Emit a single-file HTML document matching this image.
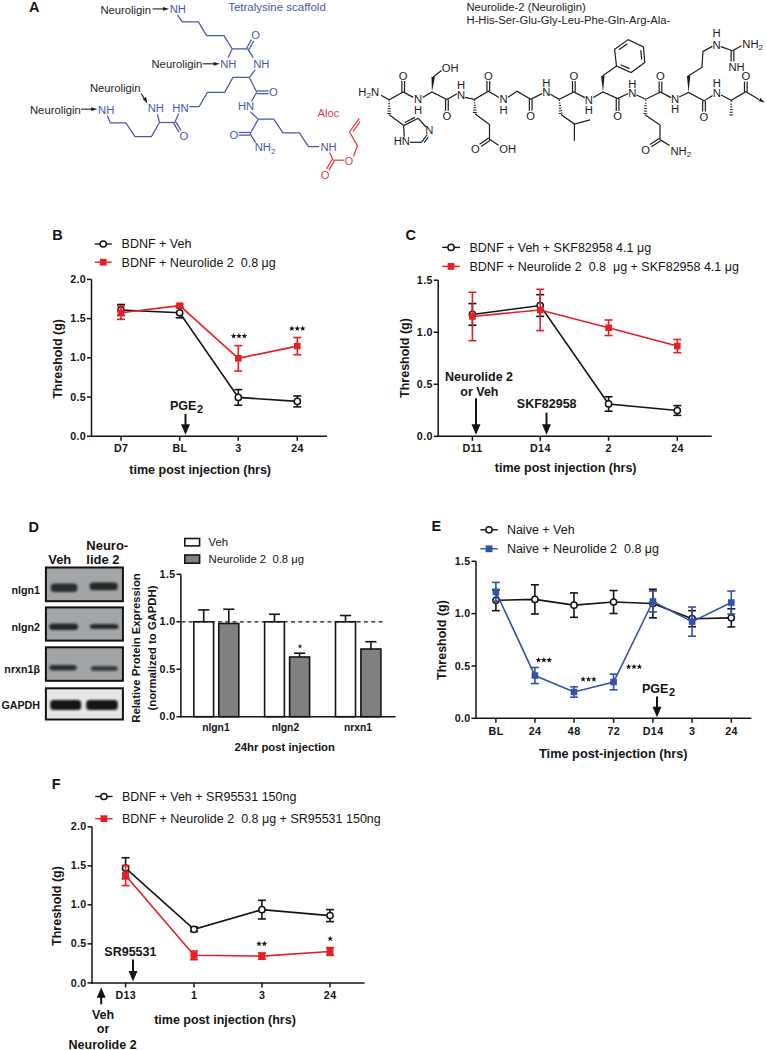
<!DOCTYPE html>
<html><head><meta charset="utf-8"><style>
html,body{margin:0;padding:0;background:#fff;}
svg{display:block;font-family:"Liberation Sans", sans-serif;}
svg text{white-space:pre;}
</style></head><body>
<svg width="767" height="1050" viewBox="0 0 767 1050">
<rect width="767" height="1050" fill="#fff"/>
<text x="29.1" y="11.6" font-size="14.5" font-weight="bold" text-anchor="start" fill="#1c1c1c">A</text>
<text x="228.2" y="11" font-size="11.5" text-anchor="start" fill="#4a58a8">Tetralysine scaffold</text>
<text x="100.4" y="13.5" font-size="11.25" text-anchor="start" fill="#1c1c1c">Neuroligin</text>
<line x1="152.5" y1="8.9" x2="164" y2="8.9" stroke="#1c1c1c" stroke-width="1.1"/>
<polygon points="169.2,8.9 163,10.8 163,7" fill="#1c1c1c"/>
<text x="169.7" y="13.3" font-size="11.25" text-anchor="start" fill="#4a58a8">NH</text>
<polyline points="177.4,14.8 182.3,21.9 198.4,21.9 206.6,35.6 224,35.6 232.2,48.9 247.7,48.9" stroke="#4a58a8" stroke-width="1.25" fill="none" stroke-linejoin="miter"/>
<line x1="248.87" y1="49.57" x2="253.77" y2="40.97" stroke="#4a58a8" stroke-width="1.25"/>
<line x1="246.53" y1="48.23" x2="251.43" y2="39.63" stroke="#4a58a8" stroke-width="1.25"/>
<text x="255.6" y="39.2" font-size="11.25" text-anchor="middle" fill="#4a58a8">O</text>
<line x1="247.7" y1="48.9" x2="253.2" y2="57.6" stroke="#4a58a8" stroke-width="1.25"/>
<line x1="232.2" y1="48.9" x2="228" y2="57.8" stroke="#4a58a8" stroke-width="1.25"/>
<text x="151.5" y="68.3" font-size="11.25" text-anchor="start" fill="#1c1c1c">Neuroligin</text>
<line x1="202.8" y1="63.8" x2="214.5" y2="63.8" stroke="#1c1c1c" stroke-width="1.1"/>
<polygon points="219.8,63.8 213.6,65.7 213.6,61.9" fill="#1c1c1c"/>
<text x="220.2" y="68.3" font-size="11.25" text-anchor="start" fill="#4a58a8">NH</text>
<text x="253.2" y="68.3" font-size="11.25" text-anchor="start" fill="#4a58a8">NH</text>
<line x1="255.2" y1="69.8" x2="249.4" y2="77.4" stroke="#4a58a8" stroke-width="1.25"/>
<polyline points="249.4,77.4 232.9,77.4 224.7,92.3 207.4,92.3 199.2,106.6 189.4,106.6" stroke="#4a58a8" stroke-width="1.25" fill="none" stroke-linejoin="miter"/>
<line x1="249.4" y1="77.4" x2="256.7" y2="92.3" stroke="#4a58a8" stroke-width="1.25"/>
<line x1="256.7" y1="93.65" x2="268.6" y2="93.65" stroke="#4a58a8" stroke-width="1.25"/>
<line x1="256.7" y1="90.95" x2="268.6" y2="90.95" stroke="#4a58a8" stroke-width="1.25"/>
<text x="273.5" y="95.9" font-size="11.25" text-anchor="middle" fill="#4a58a8">O</text>
<line x1="256.7" y1="92.3" x2="251.5" y2="101.2" stroke="#4a58a8" stroke-width="1.25"/>
<text x="238" y="110.2" font-size="11.25" text-anchor="start" fill="#4a58a8">HN</text>
<text x="30" y="113.8" font-size="11.25" text-anchor="start" fill="#1c1c1c">Neuroligin</text>
<line x1="81.1" y1="109.2" x2="92" y2="109.2" stroke="#1c1c1c" stroke-width="1.1"/>
<polygon points="97.4,109.2 91.2,111.1 91.2,107.3" fill="#1c1c1c"/>
<text x="98.1" y="113.8" font-size="11.25" text-anchor="start" fill="#4a58a8">NH</text>
<text x="89.9" y="92.4" font-size="11.25" text-anchor="start" fill="#1c1c1c">Neuroligin</text>
<line x1="141.2" y1="93.5" x2="144.3" y2="98.6" stroke="#1c1c1c" stroke-width="1.1"/>
<polygon points="147.4,103.4 142.75,98.88 146.08,97.05" fill="#1c1c1c"/>
<text x="147.7" y="112.3" font-size="11.25" text-anchor="start" fill="#4a58a8">NH</text>
<text x="172.3" y="112.3" font-size="11.25" text-anchor="start" fill="#4a58a8">HN</text>
<polyline points="107.4,115.8 110.3,122.9 125.9,122.9 135,136.6 151.4,136.6 159.5,122.5" stroke="#4a58a8" stroke-width="1.25" fill="none" stroke-linejoin="miter"/>
<line x1="159.5" y1="122.5" x2="157.4" y2="114.2" stroke="#4a58a8" stroke-width="1.25"/>
<line x1="159.5" y1="122.5" x2="174.7" y2="122.5" stroke="#4a58a8" stroke-width="1.25"/>
<line x1="174.7" y1="122.5" x2="178.6" y2="113.8" stroke="#4a58a8" stroke-width="1.25"/>
<line x1="173.55" y1="123.2" x2="178.85" y2="131.9" stroke="#4a58a8" stroke-width="1.25"/>
<line x1="175.85" y1="121.8" x2="181.15" y2="130.5" stroke="#4a58a8" stroke-width="1.25"/>
<text x="183.8" y="139.6" font-size="11.25" text-anchor="middle" fill="#4a58a8">O</text>
<line x1="250.2" y1="111.6" x2="258.3" y2="119.2" stroke="#4a58a8" stroke-width="1.25"/>
<polyline points="258.3,119.2 273.8,119.2 283,132.9 299.4,132.9 308.5,146.5 319,146.5" stroke="#4a58a8" stroke-width="1.25" fill="none" stroke-linejoin="miter"/>
<text x="320.4" y="150.5" font-size="11.25" text-anchor="start" fill="#4a58a8">NH</text>
<line x1="258.3" y1="119.2" x2="250.1" y2="133.8" stroke="#4a58a8" stroke-width="1.25"/>
<line x1="250.1" y1="132.45" x2="238.6" y2="132.45" stroke="#4a58a8" stroke-width="1.25"/>
<line x1="250.1" y1="135.15" x2="238.6" y2="135.15" stroke="#4a58a8" stroke-width="1.25"/>
<text x="234" y="138.5" font-size="11.25" text-anchor="middle" fill="#4a58a8">O</text>
<line x1="250.1" y1="133.8" x2="255.6" y2="142.6" stroke="#4a58a8" stroke-width="1.25"/>
<text x="254.7" y="151.1" font-size="11.25" fill="#4a58a8">NH<tspan font-size="8" dy="2.5">2</tspan></text>
<text x="317.4" y="116.9" font-size="11.25" text-anchor="start" fill="#e23a46">Aloc</text>
<line x1="329.6" y1="152.6" x2="333.2" y2="160.2" stroke="#e23a46" stroke-width="1.25"/>
<line x1="333.2" y1="160.2" x2="344.2" y2="160.2" stroke="#e23a46" stroke-width="1.25"/>
<text x="349" y="164.6" font-size="11.25" text-anchor="middle" fill="#e23a46">O</text>
<polyline points="353.5,156.5 357.4,145.6 349.5,132" stroke="#e23a46" stroke-width="1.25" fill="none" stroke-linejoin="miter"/>
<line x1="349.5" y1="132" x2="359.3" y2="118.3" stroke="#e23a46" stroke-width="1.25"/>
<line x1="353.08" y1="131.46" x2="359.94" y2="121.87" stroke="#e23a46" stroke-width="1.25"/>
<line x1="332.03" y1="159.52" x2="326.63" y2="168.82" stroke="#e23a46" stroke-width="1.25"/>
<line x1="334.37" y1="160.88" x2="328.97" y2="170.18" stroke="#e23a46" stroke-width="1.25"/>
<text x="325.2" y="179.4" font-size="11.25" text-anchor="middle" fill="#e23a46">O</text>
<text x="466.4" y="10.9" font-size="11.25" text-anchor="start" fill="#1c1c1c">Neurolide-2 (Neuroligin)</text>
<text x="466.4" y="24.1" font-size="11.25" text-anchor="start" fill="#1c1c1c">H-His-Ser-Glu-Gly-Leu-Phe-Gln-Arg-Ala-</text>
<text x="358.3" y="95.5" font-size="11.25" fill="#1c1c1c">H<tspan font-size="8" dy="2.5">2</tspan><tspan dy="-2.5">N</tspan></text>
<polyline points="381.1,95.2 389.2,99.8 403.2,91.9 413.2,97.4" stroke="#1c1c1c" stroke-width="1.2" fill="none" stroke-linejoin="miter"/>
<line x1="404.55" y1="91.9" x2="404.55" y2="81" stroke="#1c1c1c" stroke-width="1.2"/>
<line x1="401.85" y1="91.9" x2="401.85" y2="81" stroke="#1c1c1c" stroke-width="1.2"/>
<text x="403.2" y="79.8" font-size="11.25" text-anchor="middle" fill="#1c1c1c">O</text>
<text x="418" y="103.3" font-size="11.25" text-anchor="middle" fill="#1c1c1c">N</text>
<text x="418" y="113.6" font-size="11.25" text-anchor="middle" fill="#1c1c1c">H</text>
<polyline points="422.6,97.4 431.9,91.9 446.9,99.6 457,93.8" stroke="#1c1c1c" stroke-width="1.2" fill="none" stroke-linejoin="miter"/>
<line x1="445.55" y1="99.6" x2="445.55" y2="110.8" stroke="#1c1c1c" stroke-width="1.2"/>
<line x1="448.25" y1="99.6" x2="448.25" y2="110.8" stroke="#1c1c1c" stroke-width="1.2"/>
<text x="446.9" y="120" font-size="11.25" text-anchor="middle" fill="#1c1c1c">O</text>
<text x="461" y="99.2" font-size="11.25" text-anchor="middle" fill="#1c1c1c">N</text>
<text x="461" y="89.2" font-size="11.25" text-anchor="middle" fill="#1c1c1c">H</text>
<polyline points="465,97.4 474.6,99.3 488.3,91.3 499,97.6" stroke="#1c1c1c" stroke-width="1.2" fill="none" stroke-linejoin="miter"/>
<line x1="489.65" y1="91.3" x2="489.65" y2="81" stroke="#1c1c1c" stroke-width="1.2"/>
<line x1="486.95" y1="91.3" x2="486.95" y2="81" stroke="#1c1c1c" stroke-width="1.2"/>
<text x="488.3" y="79.8" font-size="11.25" text-anchor="middle" fill="#1c1c1c">O</text>
<text x="503.5" y="103.3" font-size="11.25" text-anchor="middle" fill="#1c1c1c">N</text>
<text x="503.5" y="113.6" font-size="11.25" text-anchor="middle" fill="#1c1c1c">H</text>
<polyline points="508,97.3 517,91.3 530.7,99.3 542,93.6" stroke="#1c1c1c" stroke-width="1.2" fill="none" stroke-linejoin="miter"/>
<line x1="529.35" y1="99.3" x2="529.35" y2="110.8" stroke="#1c1c1c" stroke-width="1.2"/>
<line x1="532.05" y1="99.3" x2="532.05" y2="110.8" stroke="#1c1c1c" stroke-width="1.2"/>
<text x="530.7" y="120" font-size="11.25" text-anchor="middle" fill="#1c1c1c">O</text>
<text x="546.2" y="96" font-size="11.25" text-anchor="middle" fill="#1c1c1c">N</text>
<text x="546.2" y="87.1" font-size="11.25" text-anchor="middle" fill="#1c1c1c">H</text>
<polyline points="550.3,94.2 559.2,99.2 573.8,91.9 584.8,97.6" stroke="#1c1c1c" stroke-width="1.2" fill="none" stroke-linejoin="miter"/>
<line x1="575.15" y1="91.9" x2="575.15" y2="81" stroke="#1c1c1c" stroke-width="1.2"/>
<line x1="572.45" y1="91.9" x2="572.45" y2="81" stroke="#1c1c1c" stroke-width="1.2"/>
<text x="573.8" y="79.8" font-size="11.25" text-anchor="middle" fill="#1c1c1c">O</text>
<text x="588.9" y="103.7" font-size="11.25" text-anchor="middle" fill="#1c1c1c">N</text>
<text x="588.9" y="113.6" font-size="11.25" text-anchor="middle" fill="#1c1c1c">H</text>
<polyline points="593.2,97.4 603,91.9 617.6,98.6 628.2,93.5" stroke="#1c1c1c" stroke-width="1.2" fill="none" stroke-linejoin="miter"/>
<line x1="616.25" y1="98.6" x2="616.25" y2="111" stroke="#1c1c1c" stroke-width="1.2"/>
<line x1="618.95" y1="98.6" x2="618.95" y2="111" stroke="#1c1c1c" stroke-width="1.2"/>
<text x="617.6" y="120.2" font-size="11.25" text-anchor="middle" fill="#1c1c1c">O</text>
<text x="632.2" y="96.8" font-size="11.25" text-anchor="middle" fill="#1c1c1c">N</text>
<text x="632.2" y="87.7" font-size="11.25" text-anchor="middle" fill="#1c1c1c">H</text>
<polyline points="636.4,95 645.9,99.2 660.5,91.9 671,97.6" stroke="#1c1c1c" stroke-width="1.2" fill="none" stroke-linejoin="miter"/>
<line x1="661.85" y1="91.9" x2="661.85" y2="81.5" stroke="#1c1c1c" stroke-width="1.2"/>
<line x1="659.15" y1="91.9" x2="659.15" y2="81.5" stroke="#1c1c1c" stroke-width="1.2"/>
<text x="660.5" y="80.2" font-size="11.25" text-anchor="middle" fill="#1c1c1c">O</text>
<text x="675" y="103.1" font-size="11.25" text-anchor="middle" fill="#1c1c1c">N</text>
<text x="675" y="113.3" font-size="11.25" text-anchor="middle" fill="#1c1c1c">H</text>
<polyline points="679.2,97 688.6,92.5 704,100.9 712.6,95.6" stroke="#1c1c1c" stroke-width="1.2" fill="none" stroke-linejoin="miter"/>
<line x1="702.65" y1="100.9" x2="702.65" y2="111.5" stroke="#1c1c1c" stroke-width="1.2"/>
<line x1="705.35" y1="100.9" x2="705.35" y2="111.5" stroke="#1c1c1c" stroke-width="1.2"/>
<text x="704" y="120.6" font-size="11.25" text-anchor="middle" fill="#1c1c1c">O</text>
<text x="716.8" y="96.5" font-size="11.25" text-anchor="middle" fill="#1c1c1c">N</text>
<text x="716.8" y="86.8" font-size="11.25" text-anchor="middle" fill="#1c1c1c">H</text>
<polyline points="721,95 731.2,100.2 745.8,91.8 759,99.4" stroke="#1c1c1c" stroke-width="1.2" fill="none" stroke-linejoin="miter"/>
<polygon points="764.8,102.6 758.76,101.06 760.46,98.12" fill="#1c1c1c"/>
<line x1="747.15" y1="91.8" x2="747.15" y2="81.5" stroke="#1c1c1c" stroke-width="1.2"/>
<line x1="744.45" y1="91.8" x2="744.45" y2="81.5" stroke="#1c1c1c" stroke-width="1.2"/>
<text x="745.8" y="80.2" font-size="11.25" text-anchor="middle" fill="#1c1c1c">O</text>
<line x1="389.74" y1="101.05" x2="388.66" y2="101.05" stroke="#1c1c1c" stroke-width="1.0"/>
<line x1="390.02" y1="103.55" x2="388.38" y2="103.55" stroke="#1c1c1c" stroke-width="1.0"/>
<line x1="390.31" y1="106.05" x2="388.09" y2="106.05" stroke="#1c1c1c" stroke-width="1.0"/>
<line x1="390.59" y1="108.55" x2="387.81" y2="108.55" stroke="#1c1c1c" stroke-width="1.0"/>
<line x1="390.88" y1="111.05" x2="387.52" y2="111.05" stroke="#1c1c1c" stroke-width="1.0"/>
<line x1="391.16" y1="113.55" x2="387.24" y2="113.55" stroke="#1c1c1c" stroke-width="1.0"/>
<line x1="389.2" y1="114.8" x2="403.7" y2="125.6" stroke="#1c1c1c" stroke-width="1.2"/>
<line x1="403.7" y1="125.6" x2="418.3" y2="118.3" stroke="#1c1c1c" stroke-width="1.2"/>
<line x1="404.86" y1="122.45" x2="415.08" y2="117.34" stroke="#1c1c1c" stroke-width="1.2"/>
<line x1="418.3" y1="118.3" x2="426" y2="127" stroke="#1c1c1c" stroke-width="1.2"/>
<text x="429.3" y="134.3" font-size="11.25" text-anchor="middle" fill="#1c1c1c">N</text>
<line x1="427.2" y1="134.5" x2="421.5" y2="142.3" stroke="#1c1c1c" stroke-width="1.2"/>
<line x1="428.2" y1="137.03" x2="424.21" y2="142.49" stroke="#1c1c1c" stroke-width="1.2"/>
<line x1="421.5" y1="142.3" x2="410" y2="142.3" stroke="#1c1c1c" stroke-width="1.2"/>
<text x="393.7" y="145.3" font-size="11.25" text-anchor="start" fill="#1c1c1c">HN</text>
<line x1="403.7" y1="125.6" x2="404.2" y2="136.8" stroke="#1c1c1c" stroke-width="1.2"/>
<polygon points="431.9,91.9 434.89,77.15 431.51,76.85" fill="#1c1c1c"/>
<line x1="433.2" y1="77" x2="441.5" y2="70.6" stroke="#1c1c1c" stroke-width="1.2"/>
<text x="441.7" y="71.9" font-size="11.25" text-anchor="start" fill="#1c1c1c">OH</text>
<line x1="475.17" y1="100.49" x2="474.08" y2="100.51" stroke="#1c1c1c" stroke-width="1.0"/>
<line x1="475.5" y1="102.88" x2="473.85" y2="102.92" stroke="#1c1c1c" stroke-width="1.0"/>
<line x1="475.83" y1="105.28" x2="473.62" y2="105.32" stroke="#1c1c1c" stroke-width="1.0"/>
<line x1="476.17" y1="107.67" x2="473.38" y2="107.73" stroke="#1c1c1c" stroke-width="1.0"/>
<line x1="476.5" y1="110.07" x2="473.15" y2="110.13" stroke="#1c1c1c" stroke-width="1.0"/>
<line x1="476.83" y1="112.46" x2="472.92" y2="112.54" stroke="#1c1c1c" stroke-width="1.0"/>
<polyline points="474.9,113.7 489.5,124.6 489.5,139.2 498.5,145.2" stroke="#1c1c1c" stroke-width="1.2" fill="none" stroke-linejoin="miter"/>
<line x1="488.75" y1="138.07" x2="479.55" y2="144.17" stroke="#1c1c1c" stroke-width="1.2"/>
<line x1="490.25" y1="140.33" x2="481.05" y2="146.43" stroke="#1c1c1c" stroke-width="1.2"/>
<text x="475.4" y="153.2" font-size="11.25" text-anchor="middle" fill="#1c1c1c">O</text>
<text x="499.3" y="152.9" font-size="11.25" text-anchor="start" fill="#1c1c1c">OH</text>
<line x1="559.88" y1="100.42" x2="558.8" y2="100.54" stroke="#1c1c1c" stroke-width="1.0"/>
<line x1="560.45" y1="102.96" x2="558.8" y2="103.14" stroke="#1c1c1c" stroke-width="1.0"/>
<line x1="561.01" y1="105.5" x2="558.81" y2="105.74" stroke="#1c1c1c" stroke-width="1.0"/>
<line x1="561.57" y1="108.03" x2="558.81" y2="108.34" stroke="#1c1c1c" stroke-width="1.0"/>
<line x1="562.14" y1="110.57" x2="558.81" y2="110.93" stroke="#1c1c1c" stroke-width="1.0"/>
<line x1="562.7" y1="113.1" x2="558.81" y2="113.53" stroke="#1c1c1c" stroke-width="1.0"/>
<polyline points="560.9,114.6 574.4,124 590,119.8" stroke="#1c1c1c" stroke-width="1.2" fill="none" stroke-linejoin="miter"/>
<line x1="574.4" y1="124" x2="574.4" y2="140.7" stroke="#1c1c1c" stroke-width="1.2"/>
<polygon points="603,91.9 604.5,75.68 601.1,75.72" fill="#1c1c1c"/>
<line x1="602.8" y1="75.7" x2="616.5" y2="66.1" stroke="#1c1c1c" stroke-width="1.2"/>
<polygon points="616.5,66.1 614.6,49.2 628.3,39.6 643.4,46.9 644.8,62.4 631.1,72.5" stroke="#1c1c1c" stroke-width="1.2" fill="none" stroke-linejoin="miter"/>
<line x1="618.95" y1="49.66" x2="627.28" y2="43.82" stroke="#1c1c1c" stroke-width="1.2"/>
<line x1="640.81" y1="50.23" x2="641.66" y2="59.66" stroke="#1c1c1c" stroke-width="1.2"/>
<line x1="629.44" y1="68.61" x2="620.56" y2="64.72" stroke="#1c1c1c" stroke-width="1.2"/>
<line x1="646.39" y1="100.54" x2="645.31" y2="100.5" stroke="#1c1c1c" stroke-width="1.0"/>
<line x1="646.57" y1="103.18" x2="644.93" y2="103.12" stroke="#1c1c1c" stroke-width="1.0"/>
<line x1="646.76" y1="105.83" x2="644.54" y2="105.74" stroke="#1c1c1c" stroke-width="1.0"/>
<line x1="646.94" y1="108.47" x2="644.16" y2="108.36" stroke="#1c1c1c" stroke-width="1.0"/>
<line x1="647.12" y1="111.11" x2="643.78" y2="110.99" stroke="#1c1c1c" stroke-width="1.0"/>
<line x1="647.31" y1="113.76" x2="643.39" y2="113.61" stroke="#1c1c1c" stroke-width="1.0"/>
<polyline points="645.3,115 660,125 660,139.6 669.5,145.6" stroke="#1c1c1c" stroke-width="1.2" fill="none" stroke-linejoin="miter"/>
<line x1="659.27" y1="138.46" x2="649.87" y2="144.46" stroke="#1c1c1c" stroke-width="1.2"/>
<line x1="660.73" y1="140.74" x2="651.33" y2="146.74" stroke="#1c1c1c" stroke-width="1.2"/>
<text x="645.6" y="153.7" font-size="11.25" text-anchor="middle" fill="#1c1c1c">O</text>
<text x="670.4" y="154.6" font-size="11.25" fill="#1c1c1c">NH<tspan font-size="8" dy="2.5">2</tspan></text>
<polygon points="688.6,92.5 690.3,75.8 686.9,75.8" fill="#1c1c1c"/>
<polyline points="688.6,75.8 701.9,67.4 703,51.4 712.4,46.4" stroke="#1c1c1c" stroke-width="1.2" fill="none" stroke-linejoin="miter"/>
<text x="716.5" y="48.6" font-size="11.25" text-anchor="middle" fill="#1c1c1c">N</text>
<text x="716.5" y="37" font-size="11.25" text-anchor="middle" fill="#1c1c1c">H</text>
<line x1="720.8" y1="46.6" x2="732.5" y2="50.7" stroke="#1c1c1c" stroke-width="1.2"/>
<line x1="731.15" y1="50.7" x2="731.15" y2="61.6" stroke="#1c1c1c" stroke-width="1.2"/>
<line x1="733.85" y1="50.7" x2="733.85" y2="61.6" stroke="#1c1c1c" stroke-width="1.2"/>
<text x="728.4" y="70.9" font-size="11.25" text-anchor="start" fill="#1c1c1c">NH</text>
<line x1="732.5" y1="50.7" x2="741.5" y2="45.8" stroke="#1c1c1c" stroke-width="1.2"/>
<text x="742.3" y="47.5" font-size="11.25" fill="#1c1c1c">NH<tspan font-size="8" dy="2.5">2</tspan></text>
<line x1="731.74" y1="101.54" x2="730.66" y2="101.54" stroke="#1c1c1c" stroke-width="1.0"/>
<line x1="732.03" y1="104.22" x2="730.38" y2="104.22" stroke="#1c1c1c" stroke-width="1.0"/>
<line x1="732.31" y1="106.91" x2="730.09" y2="106.91" stroke="#1c1c1c" stroke-width="1.0"/>
<line x1="732.59" y1="109.59" x2="729.81" y2="109.59" stroke="#1c1c1c" stroke-width="1.0"/>
<line x1="732.88" y1="112.28" x2="729.53" y2="112.28" stroke="#1c1c1c" stroke-width="1.0"/>
<line x1="733.16" y1="114.96" x2="729.24" y2="114.96" stroke="#1c1c1c" stroke-width="1.0"/>
<text x="52.2" y="240" font-size="14.5" font-weight="bold" text-anchor="start" fill="#141414">B</text>
<line x1="94.8" y1="244" x2="111.7" y2="244" stroke="#141414" stroke-width="1.4"/>
<circle cx="103.25" cy="244" r="3.1" fill="#fff" stroke="#141414" stroke-width="1.5"/>
<text x="121.6" y="248.4" font-size="12.5" text-anchor="start" fill="#141414">BDNF + Veh</text>
<line x1="94.8" y1="262.2" x2="111.7" y2="262.2" stroke="#e41f26" stroke-width="1.4"/>
<rect x="99.85" y="258.8" width="6.8" height="6.8" fill="#e41f26"/>
<text x="121.6" y="266.8" font-size="12.5" text-anchor="start" fill="#141414">BDNF + Neurolide 2  0.8 μg</text>
<line x1="91.5" y1="437.05" x2="91.5" y2="279.4" stroke="#141414" stroke-width="1.5"/>
<line x1="87" y1="436.3" x2="91.5" y2="436.3" stroke="#141414" stroke-width="1.5"/>
<text x="86.2" y="439.9" font-size="10.7" font-weight="bold" text-anchor="end" fill="#141414" letter-spacing="0.4">0.0</text>
<line x1="87" y1="397.07" x2="91.5" y2="397.07" stroke="#141414" stroke-width="1.5"/>
<text x="86.2" y="400.68" font-size="10.7" font-weight="bold" text-anchor="end" fill="#141414" letter-spacing="0.4">0.5</text>
<line x1="87" y1="357.85" x2="91.5" y2="357.85" stroke="#141414" stroke-width="1.5"/>
<text x="86.2" y="361.45" font-size="10.7" font-weight="bold" text-anchor="end" fill="#141414" letter-spacing="0.4">1.0</text>
<line x1="87" y1="318.62" x2="91.5" y2="318.62" stroke="#141414" stroke-width="1.5"/>
<text x="86.2" y="322.23" font-size="10.7" font-weight="bold" text-anchor="end" fill="#141414" letter-spacing="0.4">1.5</text>
<line x1="87" y1="279.4" x2="91.5" y2="279.4" stroke="#141414" stroke-width="1.5"/>
<text x="86.2" y="283" font-size="10.7" font-weight="bold" text-anchor="end" fill="#141414" letter-spacing="0.4">2.0</text>
<line x1="90.75" y1="436.3" x2="327" y2="436.3" stroke="#141414" stroke-width="1.5"/>
<line x1="121" y1="436.3" x2="121" y2="440.8" stroke="#141414" stroke-width="1.5"/>
<text x="121.2" y="452.1" font-size="10.7" font-weight="bold" text-anchor="middle" fill="#141414" letter-spacing="0.4">D7</text>
<line x1="179.7" y1="436.3" x2="179.7" y2="440.8" stroke="#141414" stroke-width="1.5"/>
<text x="179.9" y="452.1" font-size="10.7" font-weight="bold" text-anchor="middle" fill="#141414" letter-spacing="0.4">BL</text>
<line x1="238.3" y1="436.3" x2="238.3" y2="440.8" stroke="#141414" stroke-width="1.5"/>
<text x="238.5" y="452.1" font-size="10.7" font-weight="bold" text-anchor="middle" fill="#141414" letter-spacing="0.4">3</text>
<line x1="297.3" y1="436.3" x2="297.3" y2="440.8" stroke="#141414" stroke-width="1.5"/>
<text x="297.5" y="452.1" font-size="10.7" font-weight="bold" text-anchor="middle" fill="#141414" letter-spacing="0.4">24</text>
<text x="62" y="358.9" font-size="12.5" font-weight="bold" text-anchor="middle" fill="#141414" transform="rotate(-90 62 358.9)">Threshold (g)</text>
<text x="200.2" y="474.4" font-size="12.5" font-weight="bold" text-anchor="middle" fill="#141414">time post injection (hrs)</text>
<polyline points="121,309.99 179.7,312.73 238.3,397.42 297.3,401.4" stroke="#141414" stroke-width="1.6" fill="none" stroke-linejoin="miter"/>
<line x1="121" y1="304.51" x2="121" y2="315.46" stroke="#141414" stroke-width="1.6"/>
<line x1="117" y1="304.51" x2="125" y2="304.51" stroke="#141414" stroke-width="1.6"/>
<line x1="117" y1="315.46" x2="125" y2="315.46" stroke="#141414" stroke-width="1.6"/>
<line x1="179.7" y1="307.64" x2="179.7" y2="317.81" stroke="#141414" stroke-width="1.6"/>
<line x1="175.7" y1="307.64" x2="183.7" y2="307.64" stroke="#141414" stroke-width="1.6"/>
<line x1="175.7" y1="317.81" x2="183.7" y2="317.81" stroke="#141414" stroke-width="1.6"/>
<line x1="238.3" y1="389.6" x2="238.3" y2="405.24" stroke="#141414" stroke-width="1.6"/>
<line x1="234.3" y1="389.6" x2="242.3" y2="389.6" stroke="#141414" stroke-width="1.6"/>
<line x1="234.3" y1="405.24" x2="242.3" y2="405.24" stroke="#141414" stroke-width="1.6"/>
<line x1="297.3" y1="395.93" x2="297.3" y2="406.88" stroke="#141414" stroke-width="1.6"/>
<line x1="293.3" y1="395.93" x2="301.3" y2="395.93" stroke="#141414" stroke-width="1.6"/>
<line x1="293.3" y1="406.88" x2="301.3" y2="406.88" stroke="#141414" stroke-width="1.6"/>
<circle cx="121" cy="309.99" r="3.1" fill="#fff" stroke="#141414" stroke-width="1.5"/>
<circle cx="179.7" cy="312.73" r="3.1" fill="#fff" stroke="#141414" stroke-width="1.5"/>
<circle cx="238.3" cy="397.42" r="3.1" fill="#fff" stroke="#141414" stroke-width="1.5"/>
<circle cx="297.3" cy="401.4" r="3.1" fill="#fff" stroke="#141414" stroke-width="1.5"/>
<polyline points="121,312.73 179.7,305.69 238.3,358.32 297.3,346.12" stroke="#e41f26" stroke-width="1.6" fill="none" stroke-linejoin="miter"/>
<line x1="121" y1="306.08" x2="121" y2="319.37" stroke="#e41f26" stroke-width="1.6"/>
<line x1="117" y1="306.08" x2="125" y2="306.08" stroke="#e41f26" stroke-width="1.6"/>
<line x1="117" y1="319.37" x2="125" y2="319.37" stroke="#e41f26" stroke-width="1.6"/>
<line x1="179.7" y1="304.12" x2="179.7" y2="307.25" stroke="#e41f26" stroke-width="1.6"/>
<line x1="175.7" y1="304.12" x2="183.7" y2="304.12" stroke="#e41f26" stroke-width="1.6"/>
<line x1="175.7" y1="307.25" x2="183.7" y2="307.25" stroke="#e41f26" stroke-width="1.6"/>
<line x1="238.3" y1="345.57" x2="238.3" y2="371.06" stroke="#e41f26" stroke-width="1.6"/>
<line x1="234.3" y1="345.57" x2="242.3" y2="345.57" stroke="#e41f26" stroke-width="1.6"/>
<line x1="234.3" y1="371.06" x2="242.3" y2="371.06" stroke="#e41f26" stroke-width="1.6"/>
<line x1="297.3" y1="337.52" x2="297.3" y2="354.72" stroke="#e41f26" stroke-width="1.6"/>
<line x1="293.3" y1="337.52" x2="301.3" y2="337.52" stroke="#e41f26" stroke-width="1.6"/>
<line x1="293.3" y1="354.72" x2="301.3" y2="354.72" stroke="#e41f26" stroke-width="1.6"/>
<rect x="117.7" y="309.43" width="6.6" height="6.6" fill="#e41f26"/>
<rect x="176.4" y="302.39" width="6.6" height="6.6" fill="#e41f26"/>
<rect x="235" y="355.02" width="6.6" height="6.6" fill="#e41f26"/>
<rect x="294" y="342.82" width="6.6" height="6.6" fill="#e41f26"/>
<polygon points="233.6,333.1 234.33,335.09 236.45,335.17 234.79,336.49 235.36,338.53 233.6,337.35 231.84,338.53 232.41,336.49 230.75,335.17 232.87,335.09" fill="#141414"/>
<polygon points="239,333.1 239.73,335.09 241.85,335.17 240.19,336.49 240.76,338.53 239,337.35 237.24,338.53 237.81,336.49 236.15,335.17 238.27,335.09" fill="#141414"/>
<polygon points="244.4,333.1 245.13,335.09 247.25,335.17 245.59,336.49 246.16,338.53 244.4,337.35 242.64,338.53 243.21,336.49 241.55,335.17 243.67,335.09" fill="#141414"/>
<polygon points="291.9,325.6 292.63,327.59 294.75,327.67 293.09,328.99 293.66,331.03 291.9,329.85 290.14,331.03 290.71,328.99 289.05,327.67 291.17,327.59" fill="#141414"/>
<polygon points="297.3,325.6 298.03,327.59 300.15,327.67 298.49,328.99 299.06,331.03 297.3,329.85 295.54,331.03 296.11,328.99 294.45,327.67 296.57,327.59" fill="#141414"/>
<polygon points="302.7,325.6 303.43,327.59 305.55,327.67 303.89,328.99 304.46,331.03 302.7,329.85 300.94,331.03 301.51,328.99 299.85,327.67 301.97,327.59" fill="#141414"/>
<text x="186.5" y="410" font-size="12.5" font-weight="bold" text-anchor="middle" fill="#141414">PGE<tspan font-size="11" dx="0.6" dy="3.2">2</tspan></text>
<line x1="185.5" y1="413.9" x2="185.5" y2="425.3" stroke="#141414" stroke-width="2.0"/>
<polygon points="185.5,434.7 181,424.3 190,424.3" fill="#141414"/>
<text x="405.6" y="240.2" font-size="14.5" font-weight="bold" text-anchor="start" fill="#141414">C</text>
<line x1="442.2" y1="247.4" x2="459.9" y2="247.4" stroke="#141414" stroke-width="1.4"/>
<circle cx="451.05" cy="247.4" r="3.1" fill="#fff" stroke="#141414" stroke-width="1.5"/>
<text x="469.5" y="252" font-size="12.5" text-anchor="start" fill="#141414">BDNF + Veh + SKF82958 4.1 μg</text>
<line x1="442.2" y1="266.4" x2="459.9" y2="266.4" stroke="#e41f26" stroke-width="1.4"/>
<rect x="447.65" y="263" width="6.8" height="6.8" fill="#e41f26"/>
<text x="469.5" y="271" font-size="12.5" text-anchor="start" fill="#141414">BDNF + Neurolide 2  0.8  μg + SKF82958 4.1 μg</text>
<line x1="438.2" y1="437.05" x2="438.2" y2="280.2" stroke="#141414" stroke-width="1.5"/>
<line x1="433.7" y1="436.3" x2="438.2" y2="436.3" stroke="#141414" stroke-width="1.5"/>
<text x="432.9" y="439.9" font-size="10.7" font-weight="bold" text-anchor="end" fill="#141414" letter-spacing="0.4">0.0</text>
<line x1="433.7" y1="384.26" x2="438.2" y2="384.26" stroke="#141414" stroke-width="1.5"/>
<text x="432.9" y="387.87" font-size="10.7" font-weight="bold" text-anchor="end" fill="#141414" letter-spacing="0.4">0.5</text>
<line x1="433.7" y1="332.23" x2="438.2" y2="332.23" stroke="#141414" stroke-width="1.5"/>
<text x="432.9" y="335.83" font-size="10.7" font-weight="bold" text-anchor="end" fill="#141414" letter-spacing="0.4">1.0</text>
<line x1="433.7" y1="280.2" x2="438.2" y2="280.2" stroke="#141414" stroke-width="1.5"/>
<text x="432.9" y="283.8" font-size="10.7" font-weight="bold" text-anchor="end" fill="#141414" letter-spacing="0.4">1.5</text>
<line x1="437.45" y1="436.3" x2="711.7" y2="436.3" stroke="#141414" stroke-width="1.5"/>
<line x1="472.4" y1="436.3" x2="472.4" y2="440.8" stroke="#141414" stroke-width="1.5"/>
<text x="472.6" y="452.1" font-size="10.7" font-weight="bold" text-anchor="middle" fill="#141414" letter-spacing="0.4">D11</text>
<line x1="540.2" y1="436.3" x2="540.2" y2="440.8" stroke="#141414" stroke-width="1.5"/>
<text x="540.4" y="452.1" font-size="10.7" font-weight="bold" text-anchor="middle" fill="#141414" letter-spacing="0.4">D14</text>
<line x1="608.6" y1="436.3" x2="608.6" y2="440.8" stroke="#141414" stroke-width="1.5"/>
<text x="608.8" y="452.1" font-size="10.7" font-weight="bold" text-anchor="middle" fill="#141414" letter-spacing="0.4">2</text>
<line x1="677.3" y1="436.3" x2="677.3" y2="440.8" stroke="#141414" stroke-width="1.5"/>
<text x="677.5" y="452.1" font-size="10.7" font-weight="bold" text-anchor="middle" fill="#141414" letter-spacing="0.4">24</text>
<text x="408.6" y="358" font-size="12.5" font-weight="bold" text-anchor="middle" fill="#141414" transform="rotate(-90 408.6 358)">Threshold (g)</text>
<text x="565.7" y="472.2" font-size="12.5" font-weight="bold" text-anchor="middle" fill="#141414">time post injection (hrs)</text>
<polyline points="472.4,314.42 540.2,305.53 608.6,403.96 677.3,410.48" stroke="#141414" stroke-width="1.6" fill="none" stroke-linejoin="miter"/>
<line x1="472.4" y1="303.56" x2="472.4" y2="325.28" stroke="#141414" stroke-width="1.6"/>
<line x1="468.4" y1="303.56" x2="476.4" y2="303.56" stroke="#141414" stroke-width="1.6"/>
<line x1="468.4" y1="325.28" x2="476.4" y2="325.28" stroke="#141414" stroke-width="1.6"/>
<line x1="540.2" y1="294.67" x2="540.2" y2="316.38" stroke="#141414" stroke-width="1.6"/>
<line x1="536.2" y1="294.67" x2="544.2" y2="294.67" stroke="#141414" stroke-width="1.6"/>
<line x1="536.2" y1="316.38" x2="544.2" y2="316.38" stroke="#141414" stroke-width="1.6"/>
<line x1="608.6" y1="396.73" x2="608.6" y2="411.2" stroke="#141414" stroke-width="1.6"/>
<line x1="604.6" y1="396.73" x2="612.6" y2="396.73" stroke="#141414" stroke-width="1.6"/>
<line x1="604.6" y1="411.2" x2="612.6" y2="411.2" stroke="#141414" stroke-width="1.6"/>
<line x1="677.3" y1="405.62" x2="677.3" y2="415.34" stroke="#141414" stroke-width="1.6"/>
<line x1="673.3" y1="405.62" x2="681.3" y2="405.62" stroke="#141414" stroke-width="1.6"/>
<line x1="673.3" y1="415.34" x2="681.3" y2="415.34" stroke="#141414" stroke-width="1.6"/>
<circle cx="472.4" cy="314.42" r="3.1" fill="#fff" stroke="#141414" stroke-width="1.5"/>
<circle cx="540.2" cy="305.53" r="3.1" fill="#fff" stroke="#141414" stroke-width="1.5"/>
<circle cx="608.6" cy="403.96" r="3.1" fill="#fff" stroke="#141414" stroke-width="1.5"/>
<circle cx="677.3" cy="410.48" r="3.1" fill="#fff" stroke="#141414" stroke-width="1.5"/>
<polyline points="472.4,316.49 540.2,309.97 608.6,327.76 677.3,346.06" stroke="#e41f26" stroke-width="1.6" fill="none" stroke-linejoin="miter"/>
<line x1="472.4" y1="292.29" x2="472.4" y2="340.68" stroke="#e41f26" stroke-width="1.6"/>
<line x1="468.4" y1="292.29" x2="476.4" y2="292.29" stroke="#e41f26" stroke-width="1.6"/>
<line x1="468.4" y1="340.68" x2="476.4" y2="340.68" stroke="#e41f26" stroke-width="1.6"/>
<line x1="540.2" y1="289.29" x2="540.2" y2="330.65" stroke="#e41f26" stroke-width="1.6"/>
<line x1="536.2" y1="289.29" x2="544.2" y2="289.29" stroke="#e41f26" stroke-width="1.6"/>
<line x1="536.2" y1="330.65" x2="544.2" y2="330.65" stroke="#e41f26" stroke-width="1.6"/>
<line x1="608.6" y1="320" x2="608.6" y2="335.51" stroke="#e41f26" stroke-width="1.6"/>
<line x1="604.6" y1="320" x2="612.6" y2="320" stroke="#e41f26" stroke-width="1.6"/>
<line x1="604.6" y1="335.51" x2="612.6" y2="335.51" stroke="#e41f26" stroke-width="1.6"/>
<line x1="677.3" y1="339.44" x2="677.3" y2="352.68" stroke="#e41f26" stroke-width="1.6"/>
<line x1="673.3" y1="339.44" x2="681.3" y2="339.44" stroke="#e41f26" stroke-width="1.6"/>
<line x1="673.3" y1="352.68" x2="681.3" y2="352.68" stroke="#e41f26" stroke-width="1.6"/>
<rect x="469.1" y="313.19" width="6.6" height="6.6" fill="#e41f26"/>
<rect x="536.9" y="306.67" width="6.6" height="6.6" fill="#e41f26"/>
<rect x="605.3" y="324.46" width="6.6" height="6.6" fill="#e41f26"/>
<rect x="674" y="342.76" width="6.6" height="6.6" fill="#e41f26"/>
<text x="479" y="380.5" font-size="12.5" font-weight="bold" text-anchor="middle" fill="#141414">Neurolide 2</text>
<text x="479.4" y="395.6" font-size="12.5" font-weight="bold" text-anchor="middle" fill="#141414">or Veh</text>
<line x1="476" y1="398.2" x2="476" y2="425.3" stroke="#141414" stroke-width="2.0"/>
<polygon points="476,434.7 471.5,424.3 480.5,424.3" fill="#141414"/>
<text x="546.7" y="408.1" font-size="12.5" font-weight="bold" text-anchor="middle" fill="#141414">SKF82958</text>
<line x1="546.5" y1="412.6" x2="546.5" y2="425.3" stroke="#141414" stroke-width="2.0"/>
<polygon points="546.5,434.7 542,424.3 551,424.3" fill="#141414"/>
<text x="28.6" y="532" font-size="14.5" font-weight="bold" text-anchor="start" fill="#141414">D</text>
<text x="48.2" y="563.9" font-size="13" font-weight="bold" text-anchor="start" fill="#141414">Veh</text>
<text x="86.3" y="549.9" font-size="13" font-weight="bold" text-anchor="start" fill="#141414">Neuro-</text>
<text x="86.3" y="563.9" font-size="13" font-weight="bold" text-anchor="start" fill="#141414">lide 2</text>
<rect x="45.9" y="567.5" width="77" height="33.7" fill="#a3a6a9" stroke="#111" stroke-width="2"/>
<rect x="50.7" y="583.6" width="26.7" height="8.4" rx="3.5" fill="#2c2c2c" style="filter:blur(1.3px)"/>
<rect x="89.6" y="582.6" width="28.2" height="7.6" rx="3.5" fill="#262626" style="filter:blur(1.3px)"/>
<text x="40" y="594" font-size="10.7" font-weight="bold" text-anchor="end" fill="#141414">nlgn1</text>
<rect x="45.9" y="607.4" width="77" height="33.2" fill="#a3a6a9" stroke="#111" stroke-width="2"/>
<rect x="49.2" y="623.4" width="28.8" height="6.6" rx="3.5" fill="#262626" style="filter:blur(1.3px)"/>
<rect x="89.8" y="623.9" width="28.6" height="5.1" rx="3.5" fill="#2a2a2a" style="filter:blur(1.3px)"/>
<text x="40" y="631" font-size="10.7" font-weight="bold" text-anchor="end" fill="#141414">nlgn2</text>
<rect x="45.9" y="647.3" width="77" height="33.5" fill="#a2a5a8" stroke="#111" stroke-width="2"/>
<rect x="49.4" y="665" width="27.4" height="5.4" rx="3.5" fill="#2e2e2e" style="filter:blur(1.3px)"/>
<rect x="90.8" y="666" width="27" height="5" rx="3.5" fill="#3c3c3c" style="filter:blur(1.3px)"/>
<text x="40" y="673" font-size="10.7" font-weight="bold" text-anchor="end" fill="#141414">nrxn1&#946;</text>
<rect x="45.9" y="688.3" width="77" height="31.2" fill="#e6e6e8" stroke="#111" stroke-width="2"/>
<rect x="50.2" y="700" width="31" height="10" rx="3.5" fill="#141414" style="filter:blur(1.3px)"/>
<rect x="86.2" y="700" width="31.6" height="10" rx="3.5" fill="#141414" style="filter:blur(1.3px)"/>
<text x="40" y="708.5" font-size="10.7" font-weight="bold" text-anchor="end" fill="#141414">GAPDH</text>
<line x1="180.9" y1="717.45" x2="180.9" y2="574.31" stroke="#141414" stroke-width="1.5"/>
<line x1="176.4" y1="716.7" x2="180.9" y2="716.7" stroke="#141414" stroke-width="1.5"/>
<text x="175.6" y="720.3" font-size="10.7" font-weight="bold" text-anchor="end" fill="#141414" letter-spacing="0.4">0.0</text>
<line x1="176.4" y1="669.24" x2="180.9" y2="669.24" stroke="#141414" stroke-width="1.5"/>
<text x="175.6" y="672.84" font-size="10.7" font-weight="bold" text-anchor="end" fill="#141414" letter-spacing="0.4">0.5</text>
<line x1="176.4" y1="621.77" x2="180.9" y2="621.77" stroke="#141414" stroke-width="1.5"/>
<text x="175.6" y="625.37" font-size="10.7" font-weight="bold" text-anchor="end" fill="#141414" letter-spacing="0.4">1.0</text>
<line x1="176.4" y1="574.31" x2="180.9" y2="574.31" stroke="#141414" stroke-width="1.5"/>
<text x="175.6" y="577.91" font-size="10.7" font-weight="bold" text-anchor="end" fill="#141414" letter-spacing="0.4">1.5</text>
<line x1="180.15" y1="716.7" x2="395.5" y2="716.7" stroke="#141414" stroke-width="1.5"/>
<text x="215.9" y="730.8" font-size="10.3" font-weight="bold" text-anchor="middle" fill="#141414">nlgn1</text>
<text x="285.4" y="730.8" font-size="10.3" font-weight="bold" text-anchor="middle" fill="#141414">nlgn2</text>
<text x="357.9" y="730.8" font-size="10.3" font-weight="bold" text-anchor="middle" fill="#141414">nrxn1</text>
<text x="284.7" y="750.7" font-size="11.3" font-weight="bold" text-anchor="middle" fill="#141414">24hr post injection</text>
<text x="140" y="648" font-size="11.3" font-weight="bold" text-anchor="middle" fill="#141414" transform="rotate(-90 140 648)">Relative Protein Expression</text>
<text x="155.6" y="648" font-size="11.3" font-weight="bold" text-anchor="middle" fill="#141414" transform="rotate(-90 155.6 648)">(normalized to GAPDH)</text>
<line x1="203.7" y1="621.77" x2="203.7" y2="609.9" stroke="#141414" stroke-width="1.6"/>
<line x1="198.1" y1="609.9" x2="209.3" y2="609.9" stroke="#141414" stroke-width="1.6"/>
<rect x="193.8" y="621.77" width="19.8" height="94.93" fill="#fff" stroke="#141414" stroke-width="1.6"/>
<line x1="228.8" y1="623.48" x2="228.8" y2="609.24" stroke="#141414" stroke-width="1.6"/>
<line x1="223.2" y1="609.24" x2="234.4" y2="609.24" stroke="#141414" stroke-width="1.6"/>
<rect x="218.8" y="623.48" width="20" height="93.22" fill="#808080" stroke="#141414" stroke-width="1.6"/>
<line x1="274.5" y1="621.77" x2="274.5" y2="614.27" stroke="#141414" stroke-width="1.6"/>
<line x1="268.9" y1="614.27" x2="280.1" y2="614.27" stroke="#141414" stroke-width="1.6"/>
<rect x="264.6" y="621.77" width="19.8" height="94.93" fill="#fff" stroke="#141414" stroke-width="1.6"/>
<line x1="299.6" y1="656.99" x2="299.6" y2="653.19" stroke="#141414" stroke-width="1.6"/>
<line x1="294" y1="653.19" x2="305.2" y2="653.19" stroke="#141414" stroke-width="1.6"/>
<rect x="289.6" y="656.99" width="20" height="59.71" fill="#808080" stroke="#141414" stroke-width="1.6"/>
<line x1="345.5" y1="621.77" x2="345.5" y2="615.5" stroke="#141414" stroke-width="1.6"/>
<line x1="339.9" y1="615.5" x2="351.1" y2="615.5" stroke="#141414" stroke-width="1.6"/>
<rect x="335.5" y="621.77" width="20" height="94.93" fill="#fff" stroke="#141414" stroke-width="1.6"/>
<line x1="370.9" y1="649.01" x2="370.9" y2="641.71" stroke="#141414" stroke-width="1.6"/>
<line x1="365.3" y1="641.71" x2="376.5" y2="641.71" stroke="#141414" stroke-width="1.6"/>
<rect x="360.9" y="649.01" width="20" height="67.69" fill="#808080" stroke="#141414" stroke-width="1.6"/>
<line x1="181.5" y1="621.9" x2="386" y2="621.9" stroke="#141414" stroke-width="1.4" stroke-dasharray="3.9,3.4"/>
<polygon points="300,643.9 300.59,645.49 302.28,645.56 300.95,646.61 301.41,648.24 300,647.3 298.59,648.24 299.05,646.61 297.72,645.56 299.41,645.49" fill="#141414"/>
<rect x="184.8" y="538.5" width="14.8" height="7.4" fill="#fff" stroke="#141414" stroke-width="1.6"/>
<rect x="184.8" y="555" width="14.8" height="8.2" fill="#808080" stroke="#141414" stroke-width="1.6"/>
<text x="208.6" y="545.8" font-size="11.25" text-anchor="start" fill="#141414">Veh</text>
<text x="208.6" y="562.6" font-size="11.25" text-anchor="start" fill="#141414">Neurolide 2  0.8 μg</text>
<text x="431.6" y="531.2" font-size="14.5" font-weight="bold" text-anchor="start" fill="#141414">E</text>
<line x1="480.3" y1="529.8" x2="497.8" y2="529.8" stroke="#141414" stroke-width="1.4"/>
<circle cx="489.05" cy="529.8" r="3.1" fill="#fff" stroke="#141414" stroke-width="1.5"/>
<text x="506.9" y="533.9" font-size="12.5" text-anchor="start" fill="#141414">Naive + Veh</text>
<line x1="480.3" y1="548.8" x2="497.8" y2="548.8" stroke="#3550a8" stroke-width="1.4"/>
<rect x="485.65" y="545.4" width="6.8" height="6.8" fill="#3550a8"/>
<text x="506.9" y="553.2" font-size="12.5" text-anchor="start" fill="#141414">Naive + Neurolide 2  0.8 μg</text>
<line x1="476" y1="719.05" x2="476" y2="561.29" stroke="#141414" stroke-width="1.5"/>
<line x1="471.5" y1="718.3" x2="476" y2="718.3" stroke="#141414" stroke-width="1.5"/>
<text x="470.7" y="721.9" font-size="10.7" font-weight="bold" text-anchor="end" fill="#141414" letter-spacing="0.4">0.0</text>
<line x1="471.5" y1="665.96" x2="476" y2="665.96" stroke="#141414" stroke-width="1.5"/>
<text x="470.7" y="669.56" font-size="10.7" font-weight="bold" text-anchor="end" fill="#141414" letter-spacing="0.4">0.5</text>
<line x1="471.5" y1="613.63" x2="476" y2="613.63" stroke="#141414" stroke-width="1.5"/>
<text x="470.7" y="617.23" font-size="10.7" font-weight="bold" text-anchor="end" fill="#141414" letter-spacing="0.4">1.0</text>
<line x1="471.5" y1="561.29" x2="476" y2="561.29" stroke="#141414" stroke-width="1.5"/>
<text x="470.7" y="564.89" font-size="10.7" font-weight="bold" text-anchor="end" fill="#141414" letter-spacing="0.4">1.5</text>
<line x1="475.25" y1="718.3" x2="751.4" y2="718.3" stroke="#141414" stroke-width="1.5"/>
<line x1="495.9" y1="718.3" x2="495.9" y2="722.8" stroke="#141414" stroke-width="1.5"/>
<text x="496.1" y="734.5" font-size="10.7" font-weight="bold" text-anchor="middle" fill="#141414" letter-spacing="0.4">BL</text>
<line x1="534.9" y1="718.3" x2="534.9" y2="722.8" stroke="#141414" stroke-width="1.5"/>
<text x="535.1" y="734.5" font-size="10.7" font-weight="bold" text-anchor="middle" fill="#141414" letter-spacing="0.4">24</text>
<line x1="574" y1="718.3" x2="574" y2="722.8" stroke="#141414" stroke-width="1.5"/>
<text x="574.2" y="734.5" font-size="10.7" font-weight="bold" text-anchor="middle" fill="#141414" letter-spacing="0.4">48</text>
<line x1="613.6" y1="718.3" x2="613.6" y2="722.8" stroke="#141414" stroke-width="1.5"/>
<text x="613.8" y="734.5" font-size="10.7" font-weight="bold" text-anchor="middle" fill="#141414" letter-spacing="0.4">72</text>
<line x1="652.9" y1="718.3" x2="652.9" y2="722.8" stroke="#141414" stroke-width="1.5"/>
<text x="653.1" y="734.5" font-size="10.7" font-weight="bold" text-anchor="middle" fill="#141414" letter-spacing="0.4">D14</text>
<line x1="692.1" y1="718.3" x2="692.1" y2="722.8" stroke="#141414" stroke-width="1.5"/>
<text x="692.3" y="734.5" font-size="10.7" font-weight="bold" text-anchor="middle" fill="#141414" letter-spacing="0.4">3</text>
<line x1="731.3" y1="718.3" x2="731.3" y2="722.8" stroke="#141414" stroke-width="1.5"/>
<text x="731.5" y="734.5" font-size="10.7" font-weight="bold" text-anchor="middle" fill="#141414" letter-spacing="0.4">24</text>
<text x="446.3" y="640" font-size="12.5" font-weight="bold" text-anchor="middle" fill="#141414" transform="rotate(-90 446.3 640)">Threshold (g)</text>
<text x="613.3" y="757.7" font-size="12.75" font-weight="bold" text-anchor="middle" fill="#141414">Time post-injection (hrs)</text>
<polyline points="495.9,600.23 534.9,599.4 574,605.13 613.6,602.01 652.9,603.57 692.1,618.69 731.3,617.86" stroke="#141414" stroke-width="1.6" fill="none" stroke-linejoin="miter"/>
<line x1="495.9" y1="589.8" x2="495.9" y2="610.66" stroke="#141414" stroke-width="1.6"/>
<line x1="491.9" y1="589.8" x2="499.9" y2="589.8" stroke="#141414" stroke-width="1.6"/>
<line x1="491.9" y1="610.66" x2="499.9" y2="610.66" stroke="#141414" stroke-width="1.6"/>
<line x1="534.9" y1="584.8" x2="534.9" y2="614" stroke="#141414" stroke-width="1.6"/>
<line x1="530.9" y1="584.8" x2="538.9" y2="584.8" stroke="#141414" stroke-width="1.6"/>
<line x1="530.9" y1="614" x2="538.9" y2="614" stroke="#141414" stroke-width="1.6"/>
<line x1="574" y1="592.93" x2="574" y2="617.34" stroke="#141414" stroke-width="1.6"/>
<line x1="570" y1="592.93" x2="578" y2="592.93" stroke="#141414" stroke-width="1.6"/>
<line x1="570" y1="617.34" x2="578" y2="617.34" stroke="#141414" stroke-width="1.6"/>
<line x1="613.6" y1="590.53" x2="613.6" y2="613.48" stroke="#141414" stroke-width="1.6"/>
<line x1="609.6" y1="590.53" x2="617.6" y2="590.53" stroke="#141414" stroke-width="1.6"/>
<line x1="609.6" y1="613.48" x2="617.6" y2="613.48" stroke="#141414" stroke-width="1.6"/>
<line x1="652.9" y1="589.28" x2="652.9" y2="617.86" stroke="#141414" stroke-width="1.6"/>
<line x1="648.9" y1="589.28" x2="656.9" y2="589.28" stroke="#141414" stroke-width="1.6"/>
<line x1="648.9" y1="617.86" x2="656.9" y2="617.86" stroke="#141414" stroke-width="1.6"/>
<line x1="692.1" y1="610.66" x2="692.1" y2="626.72" stroke="#141414" stroke-width="1.6"/>
<line x1="688.1" y1="610.66" x2="696.1" y2="610.66" stroke="#141414" stroke-width="1.6"/>
<line x1="688.1" y1="626.72" x2="696.1" y2="626.72" stroke="#141414" stroke-width="1.6"/>
<line x1="731.3" y1="608.78" x2="731.3" y2="626.93" stroke="#141414" stroke-width="1.6"/>
<line x1="727.3" y1="608.78" x2="735.3" y2="608.78" stroke="#141414" stroke-width="1.6"/>
<line x1="727.3" y1="626.93" x2="735.3" y2="626.93" stroke="#141414" stroke-width="1.6"/>
<circle cx="495.9" cy="600.23" r="3.1" fill="#fff" stroke="#141414" stroke-width="1.5"/>
<circle cx="534.9" cy="599.4" r="3.1" fill="#fff" stroke="#141414" stroke-width="1.5"/>
<circle cx="574" cy="605.13" r="3.1" fill="#fff" stroke="#141414" stroke-width="1.5"/>
<circle cx="613.6" cy="602.01" r="3.1" fill="#fff" stroke="#141414" stroke-width="1.5"/>
<circle cx="652.9" cy="603.57" r="3.1" fill="#fff" stroke="#141414" stroke-width="1.5"/>
<circle cx="692.1" cy="618.69" r="3.1" fill="#fff" stroke="#141414" stroke-width="1.5"/>
<circle cx="731.3" cy="617.86" r="3.1" fill="#fff" stroke="#141414" stroke-width="1.5"/>
<polyline points="495.9,591.78 534.9,675.54 574,692.02 613.6,682 652.9,601.48 692.1,621.61 731.3,602.53" stroke="#3550a8" stroke-width="1.6" fill="none" stroke-linejoin="miter"/>
<line x1="495.9" y1="582.4" x2="495.9" y2="601.17" stroke="#3550a8" stroke-width="1.6"/>
<line x1="491.9" y1="582.4" x2="499.9" y2="582.4" stroke="#3550a8" stroke-width="1.6"/>
<line x1="491.9" y1="601.17" x2="499.9" y2="601.17" stroke="#3550a8" stroke-width="1.6"/>
<line x1="534.9" y1="667.51" x2="534.9" y2="683.57" stroke="#3550a8" stroke-width="1.6"/>
<line x1="530.9" y1="667.51" x2="538.9" y2="667.51" stroke="#3550a8" stroke-width="1.6"/>
<line x1="530.9" y1="683.57" x2="538.9" y2="683.57" stroke="#3550a8" stroke-width="1.6"/>
<line x1="574" y1="686.8" x2="574" y2="697.23" stroke="#3550a8" stroke-width="1.6"/>
<line x1="570" y1="686.8" x2="578" y2="686.8" stroke="#3550a8" stroke-width="1.6"/>
<line x1="570" y1="697.23" x2="578" y2="697.23" stroke="#3550a8" stroke-width="1.6"/>
<line x1="613.6" y1="674.18" x2="613.6" y2="689.83" stroke="#3550a8" stroke-width="1.6"/>
<line x1="609.6" y1="674.18" x2="617.6" y2="674.18" stroke="#3550a8" stroke-width="1.6"/>
<line x1="609.6" y1="689.83" x2="617.6" y2="689.83" stroke="#3550a8" stroke-width="1.6"/>
<line x1="652.9" y1="591.05" x2="652.9" y2="611.91" stroke="#3550a8" stroke-width="1.6"/>
<line x1="648.9" y1="591.05" x2="656.9" y2="591.05" stroke="#3550a8" stroke-width="1.6"/>
<line x1="648.9" y1="611.91" x2="656.9" y2="611.91" stroke="#3550a8" stroke-width="1.6"/>
<line x1="692.1" y1="607.01" x2="692.1" y2="636.22" stroke="#3550a8" stroke-width="1.6"/>
<line x1="688.1" y1="607.01" x2="696.1" y2="607.01" stroke="#3550a8" stroke-width="1.6"/>
<line x1="688.1" y1="636.22" x2="696.1" y2="636.22" stroke="#3550a8" stroke-width="1.6"/>
<line x1="731.3" y1="591.05" x2="731.3" y2="614" stroke="#3550a8" stroke-width="1.6"/>
<line x1="727.3" y1="591.05" x2="735.3" y2="591.05" stroke="#3550a8" stroke-width="1.6"/>
<line x1="727.3" y1="614" x2="735.3" y2="614" stroke="#3550a8" stroke-width="1.6"/>
<rect x="492.6" y="588.48" width="6.6" height="6.6" fill="#3550a8"/>
<rect x="531.6" y="672.24" width="6.6" height="6.6" fill="#3550a8"/>
<rect x="570.7" y="688.72" width="6.6" height="6.6" fill="#3550a8"/>
<rect x="610.3" y="678.7" width="6.6" height="6.6" fill="#3550a8"/>
<rect x="649.6" y="598.18" width="6.6" height="6.6" fill="#3550a8"/>
<rect x="688.8" y="618.31" width="6.6" height="6.6" fill="#3550a8"/>
<rect x="728" y="599.23" width="6.6" height="6.6" fill="#3550a8"/>
<polygon points="538.4,657 539.13,658.99 541.25,659.07 539.59,660.39 540.16,662.43 538.4,661.25 536.64,662.43 537.21,660.39 535.55,659.07 537.67,658.99" fill="#141414"/>
<polygon points="543.8,657 544.53,658.99 546.65,659.07 544.99,660.39 545.56,662.43 543.8,661.25 542.04,662.43 542.61,660.39 540.95,659.07 543.07,658.99" fill="#141414"/>
<polygon points="549.2,657 549.93,658.99 552.05,659.07 550.39,660.39 550.96,662.43 549.2,661.25 547.44,662.43 548.01,660.39 546.35,659.07 548.47,658.99" fill="#141414"/>
<polygon points="583.1,676.2 583.83,678.19 585.95,678.27 584.29,679.59 584.86,681.63 583.1,680.45 581.34,681.63 581.91,679.59 580.25,678.27 582.37,678.19" fill="#141414"/>
<polygon points="588.5,676.2 589.23,678.19 591.35,678.27 589.69,679.59 590.26,681.63 588.5,680.45 586.74,681.63 587.31,679.59 585.65,678.27 587.77,678.19" fill="#141414"/>
<polygon points="593.9,676.2 594.63,678.19 596.75,678.27 595.09,679.59 595.66,681.63 593.9,680.45 592.14,681.63 592.71,679.59 591.05,678.27 593.17,678.19" fill="#141414"/>
<polygon points="628.6,663.7 629.33,665.69 631.45,665.77 629.79,667.09 630.36,669.13 628.6,667.95 626.84,669.13 627.41,667.09 625.75,665.77 627.87,665.69" fill="#141414"/>
<polygon points="634,663.7 634.73,665.69 636.85,665.77 635.19,667.09 635.76,669.13 634,667.95 632.24,669.13 632.81,667.09 631.15,665.77 633.27,665.69" fill="#141414"/>
<polygon points="639.4,663.7 640.13,665.69 642.25,665.77 640.59,667.09 641.16,669.13 639.4,667.95 637.64,669.13 638.21,667.09 636.55,665.77 638.67,665.69" fill="#141414"/>
<text x="658.5" y="692.8" font-size="12.5" font-weight="bold" text-anchor="middle" fill="#141414">PGE<tspan font-size="11" dx="0.6" dy="3.2">2</tspan></text>
<line x1="657" y1="696.4" x2="657" y2="707.8" stroke="#141414" stroke-width="2.0"/>
<polygon points="657,717.2 652.5,706.8 661.5,706.8" fill="#141414"/>
<text x="51.8" y="789.4" font-size="14.5" font-weight="bold" text-anchor="start" fill="#141414">F</text>
<line x1="95.2" y1="796.5" x2="112.6" y2="796.5" stroke="#141414" stroke-width="1.4"/>
<circle cx="103.9" cy="796.5" r="3.1" fill="#fff" stroke="#141414" stroke-width="1.5"/>
<text x="122" y="801" font-size="12.5" text-anchor="start" fill="#141414">BDNF + Veh + SR95531 150ng</text>
<line x1="95.2" y1="818.7" x2="112.6" y2="818.7" stroke="#e41f26" stroke-width="1.4"/>
<rect x="100.5" y="815.3" width="6.8" height="6.8" fill="#e41f26"/>
<text x="122" y="823.4" font-size="12.5" text-anchor="start" fill="#141414">BDNF + Neurolide 2  0.8 μg + SR95531 150ng</text>
<line x1="92" y1="983.65" x2="92" y2="826.8" stroke="#141414" stroke-width="1.5"/>
<line x1="87.5" y1="982.9" x2="92" y2="982.9" stroke="#141414" stroke-width="1.5"/>
<text x="86.7" y="986.5" font-size="10.7" font-weight="bold" text-anchor="end" fill="#141414" letter-spacing="0.4">0.0</text>
<line x1="87.5" y1="943.88" x2="92" y2="943.88" stroke="#141414" stroke-width="1.5"/>
<text x="86.7" y="947.48" font-size="10.7" font-weight="bold" text-anchor="end" fill="#141414" letter-spacing="0.4">0.5</text>
<line x1="87.5" y1="904.85" x2="92" y2="904.85" stroke="#141414" stroke-width="1.5"/>
<text x="86.7" y="908.45" font-size="10.7" font-weight="bold" text-anchor="end" fill="#141414" letter-spacing="0.4">1.0</text>
<line x1="87.5" y1="865.83" x2="92" y2="865.83" stroke="#141414" stroke-width="1.5"/>
<text x="86.7" y="869.43" font-size="10.7" font-weight="bold" text-anchor="end" fill="#141414" letter-spacing="0.4">1.5</text>
<line x1="87.5" y1="826.8" x2="92" y2="826.8" stroke="#141414" stroke-width="1.5"/>
<text x="86.7" y="830.4" font-size="10.7" font-weight="bold" text-anchor="end" fill="#141414" letter-spacing="0.4">2.0</text>
<line x1="91.25" y1="982.9" x2="364.6" y2="982.9" stroke="#141414" stroke-width="1.5"/>
<line x1="125.6" y1="982.9" x2="125.6" y2="987.4" stroke="#141414" stroke-width="1.5"/>
<text x="125.8" y="998.6" font-size="10.7" font-weight="bold" text-anchor="middle" fill="#141414" letter-spacing="0.4">D13</text>
<line x1="194" y1="982.9" x2="194" y2="987.4" stroke="#141414" stroke-width="1.5"/>
<text x="194.2" y="998.6" font-size="10.7" font-weight="bold" text-anchor="middle" fill="#141414" letter-spacing="0.4">1</text>
<line x1="261.9" y1="982.9" x2="261.9" y2="987.4" stroke="#141414" stroke-width="1.5"/>
<text x="262.1" y="998.6" font-size="10.7" font-weight="bold" text-anchor="middle" fill="#141414" letter-spacing="0.4">3</text>
<line x1="330" y1="982.9" x2="330" y2="987.4" stroke="#141414" stroke-width="1.5"/>
<text x="330.2" y="998.6" font-size="10.7" font-weight="bold" text-anchor="middle" fill="#141414" letter-spacing="0.4">24</text>
<text x="61.4" y="906" font-size="12.5" font-weight="bold" text-anchor="middle" fill="#141414" transform="rotate(-90 61.4 906)">Threshold (g)</text>
<text x="225" y="1024.2" font-size="12.5" font-weight="bold" text-anchor="middle" fill="#141414">time post injection (hrs)</text>
<polyline points="125.6,868.21 194,929.29 261.9,909.63 330,915.61" stroke="#141414" stroke-width="1.6" fill="none" stroke-linejoin="miter"/>
<line x1="125.6" y1="857.73" x2="125.6" y2="878.7" stroke="#141414" stroke-width="1.6"/>
<line x1="121.6" y1="857.73" x2="129.6" y2="857.73" stroke="#141414" stroke-width="1.6"/>
<line x1="121.6" y1="878.7" x2="129.6" y2="878.7" stroke="#141414" stroke-width="1.6"/>
<line x1="194" y1="926.96" x2="194" y2="931.62" stroke="#141414" stroke-width="1.6"/>
<line x1="190" y1="926.96" x2="198" y2="926.96" stroke="#141414" stroke-width="1.6"/>
<line x1="190" y1="931.62" x2="198" y2="931.62" stroke="#141414" stroke-width="1.6"/>
<line x1="261.9" y1="900.3" x2="261.9" y2="918.95" stroke="#141414" stroke-width="1.6"/>
<line x1="257.9" y1="900.3" x2="265.9" y2="900.3" stroke="#141414" stroke-width="1.6"/>
<line x1="257.9" y1="918.95" x2="265.9" y2="918.95" stroke="#141414" stroke-width="1.6"/>
<line x1="330" y1="909.63" x2="330" y2="921.59" stroke="#141414" stroke-width="1.6"/>
<line x1="326" y1="909.63" x2="334" y2="909.63" stroke="#141414" stroke-width="1.6"/>
<line x1="326" y1="921.59" x2="334" y2="921.59" stroke="#141414" stroke-width="1.6"/>
<circle cx="125.6" cy="868.21" r="3.1" fill="#fff" stroke="#141414" stroke-width="1.5"/>
<circle cx="194" cy="929.29" r="3.1" fill="#fff" stroke="#141414" stroke-width="1.5"/>
<circle cx="261.9" cy="909.63" r="3.1" fill="#fff" stroke="#141414" stroke-width="1.5"/>
<circle cx="330" cy="915.61" r="3.1" fill="#fff" stroke="#141414" stroke-width="1.5"/>
<polyline points="125.6,875.52 194,955.32 261.9,956.09 330,951.43" stroke="#e41f26" stroke-width="1.6" fill="none" stroke-linejoin="miter"/>
<line x1="125.6" y1="865.42" x2="125.6" y2="885.62" stroke="#e41f26" stroke-width="1.6"/>
<line x1="121.6" y1="865.42" x2="129.6" y2="865.42" stroke="#e41f26" stroke-width="1.6"/>
<line x1="121.6" y1="885.62" x2="129.6" y2="885.62" stroke="#e41f26" stroke-width="1.6"/>
<line x1="194" y1="950.97" x2="194" y2="959.67" stroke="#e41f26" stroke-width="1.6"/>
<line x1="190" y1="950.97" x2="198" y2="950.97" stroke="#e41f26" stroke-width="1.6"/>
<line x1="190" y1="959.67" x2="198" y2="959.67" stroke="#e41f26" stroke-width="1.6"/>
<line x1="261.9" y1="952.99" x2="261.9" y2="959.2" stroke="#e41f26" stroke-width="1.6"/>
<line x1="257.9" y1="952.99" x2="265.9" y2="952.99" stroke="#e41f26" stroke-width="1.6"/>
<line x1="257.9" y1="959.2" x2="265.9" y2="959.2" stroke="#e41f26" stroke-width="1.6"/>
<line x1="330" y1="947.55" x2="330" y2="955.32" stroke="#e41f26" stroke-width="1.6"/>
<line x1="326" y1="947.55" x2="334" y2="947.55" stroke="#e41f26" stroke-width="1.6"/>
<line x1="326" y1="955.32" x2="334" y2="955.32" stroke="#e41f26" stroke-width="1.6"/>
<rect x="122.1" y="872.02" width="7" height="7" fill="#e41f26"/>
<rect x="190.5" y="951.82" width="7" height="7" fill="#e41f26"/>
<rect x="258.4" y="952.59" width="7" height="7" fill="#e41f26"/>
<rect x="326.5" y="947.93" width="7" height="7" fill="#e41f26"/>
<polygon points="259,940.8 259.73,942.79 261.85,942.87 260.19,944.19 260.76,946.23 259,945.05 257.24,946.23 257.81,944.19 256.15,942.87 258.27,942.79" fill="#141414"/>
<polygon points="264.4,940.8 265.13,942.79 267.25,942.87 265.59,944.19 266.16,946.23 264.4,945.05 262.64,946.23 263.21,944.19 261.55,942.87 263.67,942.79" fill="#141414"/>
<polygon points="330.2,935.7 330.93,937.69 333.05,937.77 331.39,939.09 331.96,941.13 330.2,939.95 328.44,941.13 329.01,939.09 327.35,937.77 329.47,937.69" fill="#141414"/>
<text x="130.4" y="955.5" font-size="12.5" font-weight="bold" text-anchor="middle" fill="#141414">SR95531</text>
<line x1="133" y1="959.5" x2="133" y2="972" stroke="#141414" stroke-width="2.0"/>
<polygon points="133,981.4 128.5,971 137.5,971" fill="#141414"/>
<line x1="101.2" y1="996.8" x2="101.2" y2="1004.3" stroke="#141414" stroke-width="2.0"/>
<polygon points="101.2,987.4 96.7,997.8 105.7,997.8" fill="#141414"/>
<text x="103" y="1018.6" font-size="12.5" font-weight="bold" text-anchor="middle" fill="#141414">Veh</text>
<text x="103" y="1033" font-size="12.5" font-weight="bold" text-anchor="middle" fill="#141414">or</text>
<text x="102.6" y="1048.6" font-size="12.5" font-weight="bold" text-anchor="middle" fill="#141414">Neurolide 2</text>
</svg>
</body></html>
